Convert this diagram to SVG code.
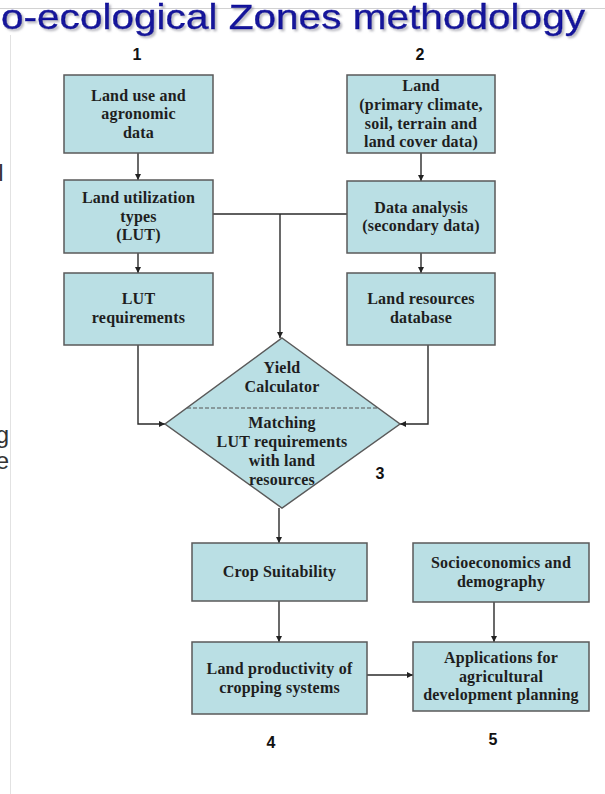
<svg xmlns="http://www.w3.org/2000/svg" width="605" height="794" viewBox="0 0 605 794">
<defs>
<marker id="ah" viewBox="0 0 10 10" refX="10" refY="5" markerWidth="6" markerHeight="6" markerUnits="userSpaceOnUse" orient="auto">
<path d="M0,0 L10,5 L0,10 z" fill="#222"/>
</marker>
<filter id="shadow" x="-5%" y="-30%" width="110%" height="160%">
<feDropShadow dx="2" dy="2" stdDeviation="1" flood-color="#8a8a96" flood-opacity="0.6"/>
</filter>
</defs>
<style>
.box{fill:#badfe4;stroke:#5a5a5a;stroke-width:1.5}
.t{font-family:"Liberation Serif","Times New Roman",serif;font-weight:bold;font-size:16px;fill:#1e1e1e;text-anchor:middle;letter-spacing:0.2px}
.num{font-family:"Liberation Sans",Arial,sans-serif;font-weight:bold;font-size:16px;fill:#111;text-anchor:middle}
.c{fill:none;stroke:#2a2a2a;stroke-width:1.4}
.frag{font-family:"Liberation Sans",Arial,sans-serif;font-size:24px;fill:#333;text-anchor:end}
</style>
<rect width="605" height="794" fill="#ffffff"/>
<line x1="0" y1="8.5" x2="605" y2="8.5" stroke="#d2d2d2" stroke-width="1"/>
<line x1="10.5" y1="35" x2="10.5" y2="794" stroke="#e2e2e2" stroke-width="1"/>
<g id="title">
<text x="1" y="29" font-family="Liberation Sans, Arial, sans-serif" font-size="35" fill="#12129a" stroke="#12129a" stroke-width="0.4" filter="url(#shadow)" textLength="584" lengthAdjust="spacingAndGlyphs">o-ecological Zones methodology</text>
</g>
<g id="left-fragments">
<text class="frag" x="3.5" y="181">l</text>
<text class="frag" x="9" y="443">g</text>
<text class="frag" x="9" y="469">e</text>
</g>
<g id="connectors">
<line class="c" x1="138" y1="153" x2="138" y2="180" marker-end="url(#ah)"/>
<line class="c" x1="421" y1="153" x2="421" y2="181" marker-end="url(#ah)"/>
<line class="c" x1="213" y1="214" x2="347" y2="214"/>
<line class="c" x1="280" y1="214" x2="280" y2="338" marker-end="url(#ah)"/>
<line class="c" x1="138" y1="253" x2="138" y2="273" marker-end="url(#ah)"/>
<line class="c" x1="421" y1="253" x2="421" y2="273" marker-end="url(#ah)"/>
<polyline class="c" points="138,345 138,424 165,424" marker-end="url(#ah)"/>
<polyline class="c" points="428,345 428,424 400,424" marker-end="url(#ah)"/>
<line class="c" x1="279" y1="508" x2="279" y2="543" marker-end="url(#ah)"/>
<line class="c" x1="279" y1="601" x2="279" y2="642" marker-end="url(#ah)"/>
<line class="c" x1="494" y1="602" x2="494" y2="642" marker-end="url(#ah)"/>
<line class="c" x1="367" y1="675" x2="413" y2="675" marker-end="url(#ah)"/>
</g>
<g id="n1">
<rect class="box" x="64" y="75" width="149" height="78"/>
<text class="t" x="138.5" y="100.5">Land use and</text>
<text class="t" x="138.5" y="119">agronomic</text>
<text class="t" x="138.5" y="137.5">data</text>
</g>
<g id="n2">
<rect class="box" x="347" y="75" width="148" height="78"/>
<text class="t" x="421" y="91">Land</text>
<text class="t" x="421" y="110">(primary climate,</text>
<text class="t" x="421" y="128.5">soil, terrain and</text>
<text class="t" x="421" y="147">land cover data)</text>
</g>
<g id="n-lut">
<rect class="box" x="64" y="180" width="149" height="73"/>
<text class="t" x="138.5" y="203">Land utilization</text>
<text class="t" x="138.5" y="221.5">types</text>
<text class="t" x="138.5" y="240">(LUT)</text>
</g>
<g id="n-data">
<rect class="box" x="347" y="181" width="148" height="72"/>
<text class="t" x="421" y="212.5">Data analysis</text>
<text class="t" x="421" y="231">(secondary data)</text>
</g>
<g id="n-lutreq">
<rect class="box" x="64" y="273" width="149" height="72"/>
<text class="t" x="138.5" y="304">LUT</text>
<text class="t" x="138.5" y="323">requirements</text>
</g>
<g id="n-landres">
<rect class="box" x="347" y="273" width="148" height="72"/>
<text class="t" x="421" y="304">Land resources</text>
<text class="t" x="421" y="323">database</text>
</g>
<g id="n3">
<polygon class="box" points="282,338 400,424 282,508 165,424"/>
<line x1="187" y1="408" x2="378" y2="408" stroke="#555" stroke-width="1" stroke-dasharray="4,2"/>
<text class="t" x="282" y="373">Yield</text>
<text class="t" x="282" y="392">Calculator</text>
<text class="t" x="282" y="428">Matching</text>
<text class="t" x="282" y="447">LUT requirements</text>
<text class="t" x="282" y="466">with land</text>
<text class="t" x="282" y="485">resources</text>
</g>
<g id="n-crop">
<rect class="box" x="192" y="543" width="175" height="58"/>
<text class="t" x="279.5" y="577">Crop Suitability</text>
</g>
<g id="n-socio">
<rect class="box" x="413" y="543" width="176" height="59"/>
<text class="t" x="501" y="568">Socioeconomics and</text>
<text class="t" x="501" y="587">demography</text>
</g>
<g id="n-prod">
<rect class="box" x="192" y="642" width="175" height="72"/>
<text class="t" x="279.5" y="674">Land productivity of</text>
<text class="t" x="279.5" y="693">cropping systems</text>
</g>
<g id="n-app">
<rect class="box" x="413" y="642" width="176" height="69"/>
<text class="t" x="501" y="663">Applications for</text>
<text class="t" x="501" y="682">agricultural</text>
<text class="t" x="501" y="700">development planning</text>
</g>
<g id="numbers">
<text class="num" x="137" y="60" font-size="17">1</text>
<text class="num" x="420" y="60" font-size="17">2</text>
<text class="num" x="380" y="479" font-size="18">3</text>
<text class="num" x="271" y="748" font-size="17">4</text>
<text class="num" x="493" y="745" font-size="17">5</text>
</g>
</svg>
